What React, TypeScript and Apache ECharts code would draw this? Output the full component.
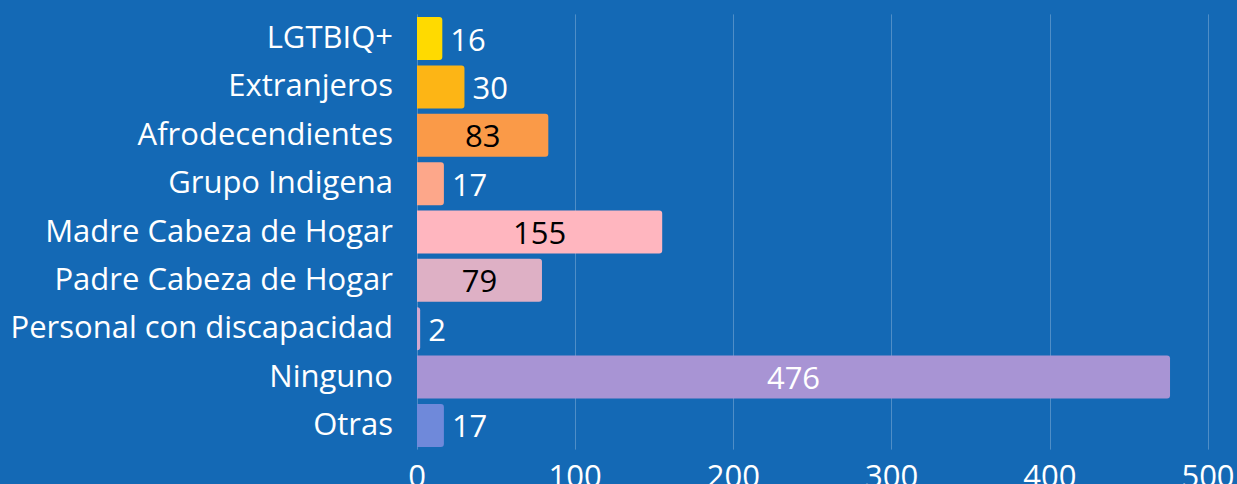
import React, { useEffect, useRef } from "react";
import * as echarts from "echarts";

const categories = [
  "LGTBIQ+",
  "Extranjeros",
  "Afrodecendientes",
  "Grupo Indigena",
  "Madre Cabeza de Hogar",
  "Padre Cabeza de Hogar",
  "Personal con discapacidad",
  "Ninguno",
  "Otras",
];
const values = [16, 30, 83, 17, 155, 79, 2, 476, 17];
const barColors = [
  "#ffda00",
  "#fdb515",
  "#fa9a48",
  "#fda78a",
  "#ffb6bf",
  "#deb0c5",
  "#d2a8cf",
  "#a894d4",
  "#6f89da",
];
const xTicks = [0, 100, 200, 300, 400, 500];

const BG = "#1469b5";
const FONT = "'Open Sans', 'Noto Sans', sans-serif";

function luminance(hex: string) {
  const r = parseInt(hex.slice(1, 3), 16);
  const g = parseInt(hex.slice(3, 5), 16);
  const b = parseInt(hex.slice(5, 7), 16);
  return 0.299 * r + 0.587 * g + 0.114 * b;
}

export default function App() {
  const ref = useRef<HTMLDivElement>(null);
  useEffect(() => {
    if (!ref.current) return;
    const chart = echarts.init(ref.current, undefined, { renderer: "svg" });
    const data = values.map((v, i) => {
      const inside = v >= 50;
      const col = barColors[i];
      return {
        value: v,
        itemStyle: { color: col, borderRadius: [0, 3, 3, 0] },
        label: inside
          ? {
              position: "inside",
              color: luminance(col) > 166 ? "#000000" : "#ffffff",
            }
          : { position: "right", distance: 8, color: "#ffffff" },
      };
    });
    chart.setOption({
      animation: false,
      backgroundColor: BG,
      textStyle: { fontFamily: FONT },
      grid: {
        left: 417,
        right: 29,
        top: 14.4,
        bottom: 34.4,
        containLabel: false,
        outerBoundsMode: "none",
      },
      xAxis: {
        type: "value",
        min: xTicks[0],
        max: xTicks[xTicks.length - 1],
        interval: 100,
        axisLine: { show: false },
        axisTick: { show: false },
        splitLine: { show: true, lineStyle: { color: "rgba(255,255,255,0.25)", width: 1 } },
        axisLabel: {
          color: "#ffffff",
          fontSize: 31,
          fontFamily: FONT,
          margin: 10,
        },
      },
      yAxis: {
        type: "category",
        data: categories,
        inverse: true,
        axisLine: { show: false },
        axisTick: { show: false },
        splitLine: { show: false },
        axisLabel: {
          color: "#ffffff",
          fontSize: 31,
          fontFamily: FONT,
          margin: 24,
          formatter: (v: string) => "{c|" + v + "}",
          rich: {
            c: {
              color: "#ffffff",
              fontSize: 31,
              fontFamily: FONT,
              padding: [0, 0, 5, 0],
            },
          },
        },
      },
      series: [
        {
          type: "bar",
          data,
          barCategoryGap: "11%",
          label: {
            show: true,
            fontSize: 31,
            fontFamily: FONT,
          },
        },
      ],
    });
    return () => chart.dispose();
  }, []);
  return (
    <div
      ref={ref}
      style={{ position: "absolute", left: 0, top: 0, width: 1237, height: 484 }}
    />
  );
}
